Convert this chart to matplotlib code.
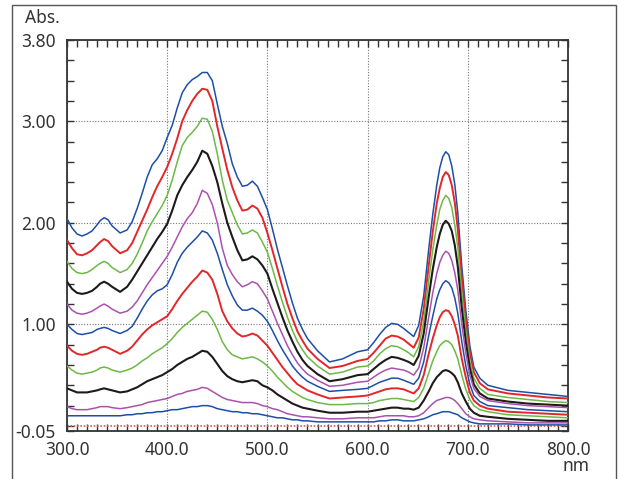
import matplotlib
matplotlib.use("Agg")
import matplotlib.pyplot as plt
from matplotlib.ticker import MultipleLocator
from matplotlib.patches import Rectangle

plt.rcParams['font.family'] = ['Noto Sans', 'DejaVu Sans']

# wavelengths (nm) shared by all spectra
wl = [300, 305, 310, 315, 320, 325, 330, 333, 337, 341, 345, 353,
      360, 365, 370, 375, 380, 385, 390, 395, 400, 405, 410, 415, 420, 425, 430, 435, 440,
      445, 450, 455, 460, 465, 470, 475, 480, 485, 490, 495, 500, 505, 510, 515, 520,
      525, 530, 535, 540, 550, 562, 575, 590, 600, 606, 612, 618, 624, 630, 636, 641, 646,
      651, 656, 661, 665, 669, 672, 675, 678, 681, 684, 687, 690, 694, 698, 702, 706, 712, 720,
      740, 760, 780, 800]

# absorbance spectra, top to bottom
s1 = [2.04, 1.95, 1.89, 1.87, 1.89, 1.92, 1.98, 2.02, 2.05, 2.03, 1.97, 1.90,
      1.93, 2.01, 2.14, 2.29, 2.45, 2.57, 2.63, 2.71, 2.84, 2.96, 3.13, 3.28, 3.36, 3.41, 3.44, 3.48, 3.48,
      3.40, 3.17, 2.95, 2.78, 2.58, 2.45, 2.36, 2.37, 2.41, 2.36, 2.25, 2.13, 1.94, 1.74, 1.56, 1.38,
      1.21, 1.06, 0.95, 0.86, 0.74, 0.63, 0.66, 0.73, 0.75, 0.82, 0.90, 0.97, 1.01, 1.00, 0.96, 0.92, 0.88,
      0.99, 1.28, 1.74, 2.08, 2.37, 2.54, 2.65, 2.70, 2.67, 2.56, 2.38, 2.10, 1.57, 1.14, 0.79, 0.58, 0.47, 0.40,
      0.35, 0.33, 0.31, 0.29]
s2 = [1.83, 1.75, 1.69, 1.68, 1.70, 1.73, 1.78, 1.81, 1.84, 1.82, 1.77, 1.70,
      1.73, 1.80, 1.91, 2.02, 2.13, 2.25, 2.36, 2.45, 2.55, 2.68, 2.83, 3.00, 3.11, 3.20, 3.27, 3.32, 3.31,
      3.20, 2.95, 2.73, 2.52, 2.35, 2.22, 2.12, 2.13, 2.17, 2.14, 2.05, 1.90, 1.73, 1.55, 1.37, 1.20,
      1.06, 0.93, 0.84, 0.76, 0.66, 0.57, 0.59, 0.64, 0.66, 0.72, 0.79, 0.86, 0.89, 0.88, 0.85, 0.81, 0.77,
      0.87, 1.15, 1.58, 1.91, 2.19, 2.34, 2.45, 2.50, 2.47, 2.37, 2.20, 1.94, 1.45, 1.04, 0.72, 0.53, 0.42, 0.36,
      0.32, 0.30, 0.28, 0.27]
s3 = [1.62, 1.55, 1.51, 1.50, 1.51, 1.54, 1.58, 1.60, 1.62, 1.60, 1.56, 1.51,
      1.54, 1.60, 1.69, 1.80, 1.92, 2.01, 2.09, 2.17, 2.27, 2.42, 2.60, 2.76, 2.84, 2.89, 2.95, 3.03, 3.02,
      2.90, 2.68, 2.42, 2.22, 2.10, 1.98, 1.89, 1.90, 1.93, 1.90, 1.81, 1.71, 1.55, 1.38, 1.22, 1.07,
      0.94, 0.83, 0.75, 0.68, 0.59, 0.51, 0.53, 0.58, 0.59, 0.64, 0.71, 0.76, 0.79, 0.78, 0.75, 0.72, 0.68,
      0.78, 1.03, 1.43, 1.73, 1.98, 2.13, 2.22, 2.27, 2.24, 2.15, 1.98, 1.76, 1.31, 0.94, 0.64, 0.47, 0.37, 0.31,
      0.28, 0.26, 0.24, 0.23]
s4 = [1.42, 1.35, 1.31, 1.30, 1.31, 1.33, 1.37, 1.40, 1.42, 1.40, 1.37, 1.32,
      1.37, 1.44, 1.52, 1.60, 1.68, 1.76, 1.84, 1.91, 1.99, 2.12, 2.27, 2.37, 2.45, 2.52, 2.60, 2.71, 2.68,
      2.56, 2.40, 2.19, 2.00, 1.86, 1.73, 1.63, 1.64, 1.67, 1.64, 1.58, 1.50, 1.35, 1.21, 1.07, 0.94,
      0.83, 0.73, 0.65, 0.59, 0.51, 0.44, 0.46, 0.50, 0.51, 0.56, 0.61, 0.65, 0.68, 0.67, 0.65, 0.63, 0.60,
      0.69, 0.91, 1.27, 1.54, 1.76, 1.89, 1.98, 2.02, 1.99, 1.92, 1.78, 1.57, 1.16, 0.83, 0.57, 0.41, 0.32, 0.27,
      0.24, 0.22, 0.21, 0.20]
s5 = [1.20, 1.14, 1.11, 1.10, 1.11, 1.13, 1.16, 1.18, 1.20, 1.18, 1.15, 1.11,
      1.13, 1.17, 1.23, 1.31, 1.39, 1.46, 1.53, 1.60, 1.67, 1.76, 1.86, 1.96, 2.04, 2.10, 2.19, 2.32, 2.29,
      2.18, 2.00, 1.75, 1.58, 1.49, 1.42, 1.37, 1.39, 1.42, 1.40, 1.33, 1.25, 1.13, 1.01, 0.90, 0.79,
      0.70, 0.62, 0.56, 0.51, 0.45, 0.39, 0.40, 0.43, 0.44, 0.48, 0.52, 0.55, 0.57, 0.56, 0.55, 0.53, 0.50,
      0.57, 0.77, 1.07, 1.31, 1.50, 1.61, 1.68, 1.72, 1.70, 1.63, 1.51, 1.34, 1.00, 0.72, 0.50, 0.37, 0.29, 0.25,
      0.22, 0.20, 0.19, 0.18]
s6 = [1.00, 0.95, 0.91, 0.90, 0.91, 0.92, 0.95, 0.96, 0.97, 0.96, 0.94, 0.91,
      0.94, 0.98, 1.06, 1.15, 1.23, 1.29, 1.33, 1.35, 1.39, 1.49, 1.61, 1.70, 1.76, 1.81, 1.86, 1.92, 1.90,
      1.83, 1.70, 1.54, 1.39, 1.28, 1.19, 1.14, 1.14, 1.16, 1.13, 1.09, 1.03, 0.94, 0.84, 0.75, 0.67,
      0.59, 0.53, 0.48, 0.44, 0.39, 0.34, 0.35, 0.36, 0.37, 0.40, 0.43, 0.45, 0.47, 0.47, 0.45, 0.43, 0.41,
      0.47, 0.63, 0.89, 1.08, 1.25, 1.34, 1.40, 1.43, 1.41, 1.36, 1.26, 1.11, 0.83, 0.59, 0.41, 0.30, 0.24, 0.20,
      0.18, 0.16, 0.15, 0.14]
s7 = [0.79, 0.74, 0.71, 0.70, 0.71, 0.73, 0.75, 0.77, 0.78, 0.77, 0.75, 0.71,
      0.74, 0.78, 0.84, 0.90, 0.95, 0.99, 1.02, 1.05, 1.08, 1.15, 1.23, 1.30, 1.36, 1.42, 1.47, 1.53, 1.51,
      1.44, 1.30, 1.13, 1.03, 0.96, 0.91, 0.88, 0.89, 0.91, 0.89, 0.84, 0.79, 0.72, 0.65, 0.58, 0.52,
      0.46, 0.41, 0.38, 0.35, 0.31, 0.27, 0.28, 0.29, 0.30, 0.32, 0.34, 0.36, 0.37, 0.37, 0.36, 0.34, 0.32,
      0.37, 0.50, 0.71, 0.86, 0.99, 1.07, 1.12, 1.14, 1.13, 1.08, 1.00, 0.89, 0.66, 0.48, 0.33, 0.25, 0.20, 0.17,
      0.14, 0.13, 0.12, 0.11]
s8 = [0.59, 0.55, 0.52, 0.51, 0.52, 0.53, 0.55, 0.57, 0.58, 0.57, 0.55, 0.53,
      0.55, 0.57, 0.60, 0.64, 0.67, 0.71, 0.74, 0.77, 0.81, 0.86, 0.92, 0.97, 1.01, 1.05, 1.09, 1.13, 1.12,
      1.05, 0.95, 0.83, 0.75, 0.70, 0.68, 0.66, 0.67, 0.68, 0.66, 0.63, 0.59, 0.54, 0.48, 0.43, 0.38,
      0.34, 0.31, 0.28, 0.26, 0.23, 0.21, 0.21, 0.22, 0.22, 0.23, 0.25, 0.26, 0.27, 0.27, 0.26, 0.25, 0.24,
      0.28, 0.37, 0.52, 0.64, 0.73, 0.79, 0.82, 0.84, 0.83, 0.80, 0.74, 0.66, 0.50, 0.36, 0.26, 0.20, 0.16, 0.14,
      0.11, 0.10, 0.09, 0.08]
s9 = [0.37, 0.35, 0.33, 0.33, 0.33, 0.34, 0.35, 0.36, 0.37, 0.36, 0.35, 0.33,
      0.34, 0.36, 0.38, 0.41, 0.44, 0.46, 0.48, 0.50, 0.53, 0.56, 0.60, 0.63, 0.66, 0.68, 0.71, 0.74, 0.73,
      0.68, 0.61, 0.54, 0.49, 0.46, 0.44, 0.43, 0.44, 0.45, 0.44, 0.40, 0.38, 0.35, 0.31, 0.28, 0.25,
      0.22, 0.20, 0.18, 0.17, 0.15, 0.13, 0.13, 0.14, 0.14, 0.15, 0.16, 0.17, 0.18, 0.18, 0.17, 0.17, 0.16,
      0.18, 0.25, 0.34, 0.42, 0.48, 0.51, 0.54, 0.55, 0.54, 0.52, 0.49, 0.43, 0.32, 0.24, 0.17, 0.13, 0.10, 0.09,
      0.07, 0.06, 0.05, 0.05]
s10 = [0.19, 0.17, 0.16, 0.16, 0.16, 0.17, 0.18, 0.19, 0.19, 0.19, 0.18, 0.17,
       0.18, 0.19, 0.20, 0.21, 0.23, 0.24, 0.25, 0.26, 0.27, 0.29, 0.31, 0.32, 0.34, 0.35, 0.36, 0.38, 0.37,
       0.34, 0.31, 0.28, 0.26, 0.25, 0.24, 0.23, 0.23, 0.23, 0.22, 0.20, 0.19, 0.17, 0.16, 0.14, 0.12,
       0.11, 0.10, 0.09, 0.09, 0.08, 0.07, 0.07, 0.08, 0.08, 0.08, 0.09, 0.10, 0.10, 0.10, 0.10, 0.09, 0.09,
       0.10, 0.13, 0.18, 0.22, 0.25, 0.26, 0.27, 0.28, 0.28, 0.27, 0.25, 0.22, 0.17, 0.12, 0.09, 0.07, 0.06, 0.05,
       0.04, 0.03, 0.03, 0.03]
s11 = [0.10, 0.10, 0.10, 0.10, 0.10, 0.10, 0.10, 0.10, 0.10, 0.10, 0.10, 0.10,
       0.11, 0.11, 0.12, 0.12, 0.13, 0.13, 0.14, 0.14, 0.15, 0.16, 0.16, 0.17, 0.18, 0.19, 0.19, 0.20, 0.20,
       0.19, 0.17, 0.16, 0.15, 0.14, 0.14, 0.13, 0.13, 0.12, 0.12, 0.11, 0.10, 0.09, 0.08, 0.08, 0.07,
       0.06, 0.06, 0.05, 0.05, 0.04, 0.04, 0.04, 0.04, 0.04, 0.04, 0.05, 0.05, 0.06, 0.06, 0.05, 0.05, 0.05,
       0.06, 0.07, 0.09, 0.11, 0.12, 0.13, 0.14, 0.14, 0.14, 0.13, 0.12, 0.11, 0.08, 0.06, 0.04, 0.03, 0.02, 0.02,
       0.02, 0.01, 0.01, 0.01]
spectra = [s1, s2, s3, s4, s5, s6, s7, s8, s9, s10, s11]

blue, red, green, black, purple = '#1d4fa6', '#e3262a', '#6cb947', '#1e1a1a', '#a952ab'
colors = [blue, red, green, black, purple, blue, red, green, black, purple, blue]
widths = [1.1, 1.4, 1.1, 1.5, 1.1, 1.1, 1.4, 1.1, 1.5, 1.1, 1.1]

xticks = [300, 400, 500, 600, 700, 800]
xlabels = ['300.0', '400.0', '500.0', '600.0', '700.0', '800.0']
yticks = [-0.05, 1.0, 2.0, 3.0, 3.8]
ylabels = ['-0.05', '1.00', '2.00', '3.00', '3.80']

fig = plt.figure(figsize=(6.19, 4.79), dpi=100)
ax = fig.add_axes([67/619, 48/479, 501/619, 391/479])

for y, c, w in zip(spectra, colors, widths):
    ax.plot(wl, y, color=c, lw=w, zorder=3, solid_joinstyle='round')
ax.axhline(0, color='#e05a5a', lw=1.2, ls=(0, (1, 1)), zorder=2)

ax.set_xlim(300, 800)
ax.set_ylim(-0.05, 3.8)
ax.set_xticks(xticks)
ax.set_xticklabels(xlabels)
ax.set_yticks(yticks)
ax.set_yticklabels(ylabels)
ax.xaxis.set_minor_locator(MultipleLocator(10))
ax.yaxis.set_minor_locator(MultipleLocator(0.2))
ax.tick_params(which='both', direction='in', top=True, right=True, color='#333333',
               labelsize=12.5, labelcolor='#333333', width=1, length=5)
ax.tick_params(axis='x', pad=7)
ax.tick_params(axis='y', pad=8)
ax.grid(True, which='major', color='#777777', ls=(0, (1, 1.5)), lw=0.8)
for s in ax.spines.values():
    s.set_color('#333333')
    s.set_linewidth(1.3)

fig.text(25/619, 1 - 18/479, 'Abs.', fontsize=12.5, color='#333333', va='center', ha='left')
fig.text(590/619, 1 - 466/479, 'nm', fontsize=12.5, color='#333333', va='center', ha='right')

fig.add_artist(Rectangle((12/619, -0.1), 604/619, 1.1 - 5/479, transform=fig.transFigure,
                         fill=False, edgecolor='#555555', lw=1))

fig.savefig('out.png', dpi=100)
